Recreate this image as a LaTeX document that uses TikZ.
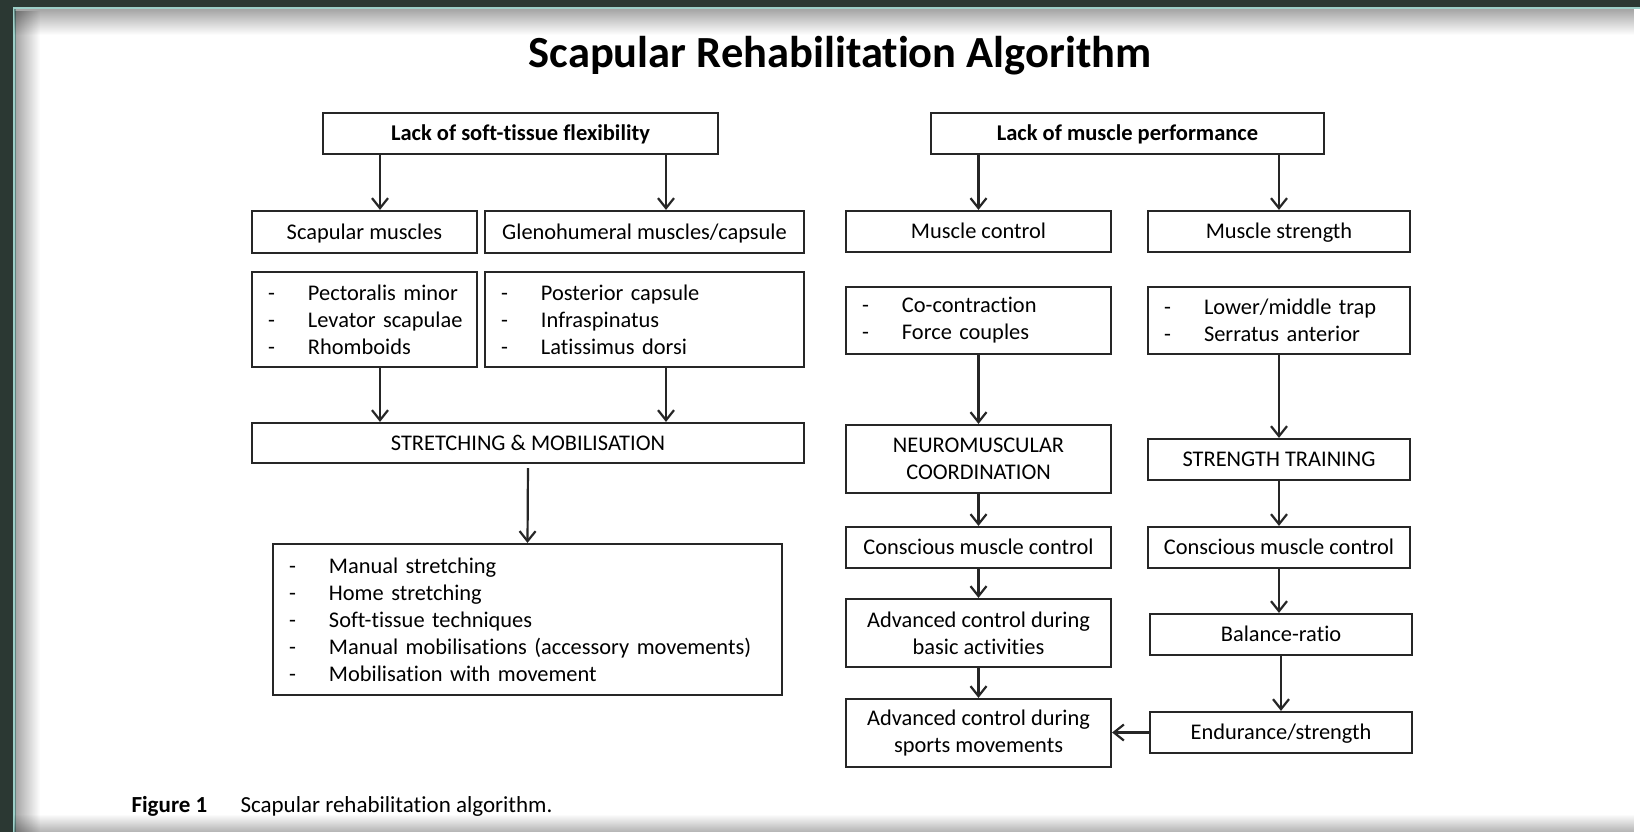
\documentclass[tikz,border=0pt]{standalone}
\usepackage{fontspec}
\setmainfont{Carlito}[Ligatures=NoCommon]
\usepackage{tikz}
\usetikzlibrary{positioning,arrows.meta,fadings}
\definecolor{slate}{HTML}{2B3833}
\definecolor{rim}{HTML}{9CCFC8}
\tikzset{
	box/.style={draw=black!85, line width=2.2pt, inner sep=0pt, align=center, font=\fontsize{22.4}{27}\selectfont}, % plain rectangle with one or two lines
	single/.style={box, text height=16pt, text depth=1.6pt}, % one line, caps centred in the box
	headbox/.style={single, font=\bfseries\fontsize{22.5}{27}\selectfont},
	listbox/.style={box, align=left, inner xsep=16pt, text width=#1}, % box holding a dashed list
	arr/.style={line width=2.2pt, draw=black!85, -{Straight Barb[length=10pt,width=16pt,line width=2.2pt]}}
}
\newcommand{\itm}[1]{\makebox[40pt][l]{-}\mbox{#1}}

\begin{document}
\begin{tikzpicture}[x=1pt,y=-1pt,
        caption/.style={anchor=base west, font=\fontsize{23}{27}\selectfont}
        ]
            \useasboundingbox (0,0) rectangle (1640,832);
            % page and frame
            \fill[slate] (0,0) rectangle (1640,832);
            \fill[rim] (13,7) rectangle (1640,832);
            \fill[white] (15.5,9.5) rectangle (1640,832);
            \fill[black, fill opacity=0.35, path fading=east] (15.5,9.5) rectangle (40,832);
            \fill[black, fill opacity=0.35, path fading=south] (15.5,9.5) rectangle (1640,35);
            \fill[black, fill opacity=0.3, path fading=north] (15.5,814) rectangle (1640,832);

            \node[anchor=base, font=\bfseries\fontsize{44.5}{52}\selectfont] (title) at (840,68) {Scapular Rehabilitation Algorithm};

            % left column
            \node[headbox, minimum width=395pt, minimum height=41pt] (soft) at (520.5,133.5) {Lack of soft-tissue flexibility};
            \node[single, minimum width=225pt, minimum height=42pt] (scap) at (364.5,232) {Scapular muscles};
            \node[single, minimum width=319pt, minimum height=42pt] (gleno) at (644.5,232) {Glenohumeral muscles/capsule};
            \node[listbox=193pt, minimum height=95pt] (scaplist) at (364.5,319.5)
                {\itm{Pectoralis minor}\\\itm{Levator scapulae}\\\itm{Rhomboids}};
            \node[listbox=287pt, minimum height=95pt] (glenolist) at (644.5,319.5)
                {\itm{Posterior capsule}\\\itm{Infraspinatus}\\\itm{Latissimus dorsi}};
            \node[single, minimum width=552pt, minimum height=40pt] (stretch) at (528,443) {STRETCHING \& MOBILISATION};
            \node[listbox=477pt, minimum height=151pt] (manual) at (527.5,619.5)
                {\itm{Manual stretching}\\\itm{Home stretching}\\\itm{Soft-tissue techniques}\\
                 \itm{Manual mobilisations (accessory movements)}\\\itm{Mobilisation with movement}};

            % right column
            \node[headbox, minimum width=393pt, minimum height=41pt] (perf) at (1127.5,133.5) {Lack of muscle performance};
            \node[single, minimum width=265pt, minimum height=41pt] (mctrl) at (978.5,231.5) {Muscle control};
            \node[single, minimum width=262pt, minimum height=41pt] (mstr) at (1279,231.5) {Muscle strength};
            \node[listbox=233pt, minimum height=67pt] (ctrllist) at (978.5,320.5)
                {\itm{Co-contraction}\\\itm{Force couples}};
            \node[listbox=230pt, minimum height=67pt] (strlist) at (1279,320.5)
                {\itm{Lower/middle trap}\\\itm{Serratus anterior}};
            \node[box, minimum width=265pt, minimum height=68pt] (neuro) at (978.5,459) {NEUROMUSCULAR\\COORDINATION};
            \node[single, minimum width=262pt, minimum height=41pt] (strtrain) at (1279,459.5) {STRENGTH TRAINING};
            \node[single, minimum width=265pt, minimum height=41pt] (consL) at (978.5,547.5) {Conscious muscle control};
            \node[single, minimum width=262pt, minimum height=41pt] (consR) at (1279,547.5) {Conscious muscle control};
            \node[box, minimum width=265pt, minimum height=68pt] (advbasic) at (978.5,633) {Advanced control during\\basic activities};
            \node[single, minimum width=262pt, minimum height=41pt] (balance) at (1281,634.5) {Balance-ratio};
            \node[box, minimum width=265pt, minimum height=68pt] (advsport) at (978.5,733) {Advanced control during\\sports movements};
            \node[single, minimum width=262pt, minimum height=41pt] (endur) at (1281,732.5) {Endurance/strength};

            \coordinate (colA) at (380,0);
            \coordinate (colB) at (666,0);
            \draw[arr] (soft.south -| colA) -- (scap.north -| colA);
            \draw[arr] (soft.south -| colB) -- (gleno.north -| colB);
            \draw[arr] (scaplist.south -| colA) -- (stretch.north -| colA);
            \draw[arr] (glenolist.south -| colB) -- (stretch.north -| colB);
            \draw[arr, shorten <=4pt] (stretch.south) -- (manual.north);

            \draw[arr] (perf.south -| mctrl) -- (mctrl.north);
            \draw[arr] (perf.south -| mstr) -- (mstr.north);
            \draw[arr] (ctrllist) -- (neuro);
            \draw[arr] (neuro) -- (consL);
            \draw[arr] (consL) -- (advbasic);
            \draw[arr] (advbasic) -- (advsport);
            \draw[arr] (strlist) -- (strtrain);
            \draw[arr] (strtrain) -- (consR);
            \draw[arr] (consR.south) -- (consR.south |- balance.north);
            \draw[arr] (balance) -- (endur);
            \draw[arr] (endur.west) -- (advsport.east |- endur.west);

            \node[caption, font=\bfseries\fontsize{23}{27}\selectfont] (figno) at (128,812) {Figure 1};
            \node[caption] (captext) at (237,812) {Scapular rehabilitation algorithm.};
        \end{tikzpicture}
\end{document}
